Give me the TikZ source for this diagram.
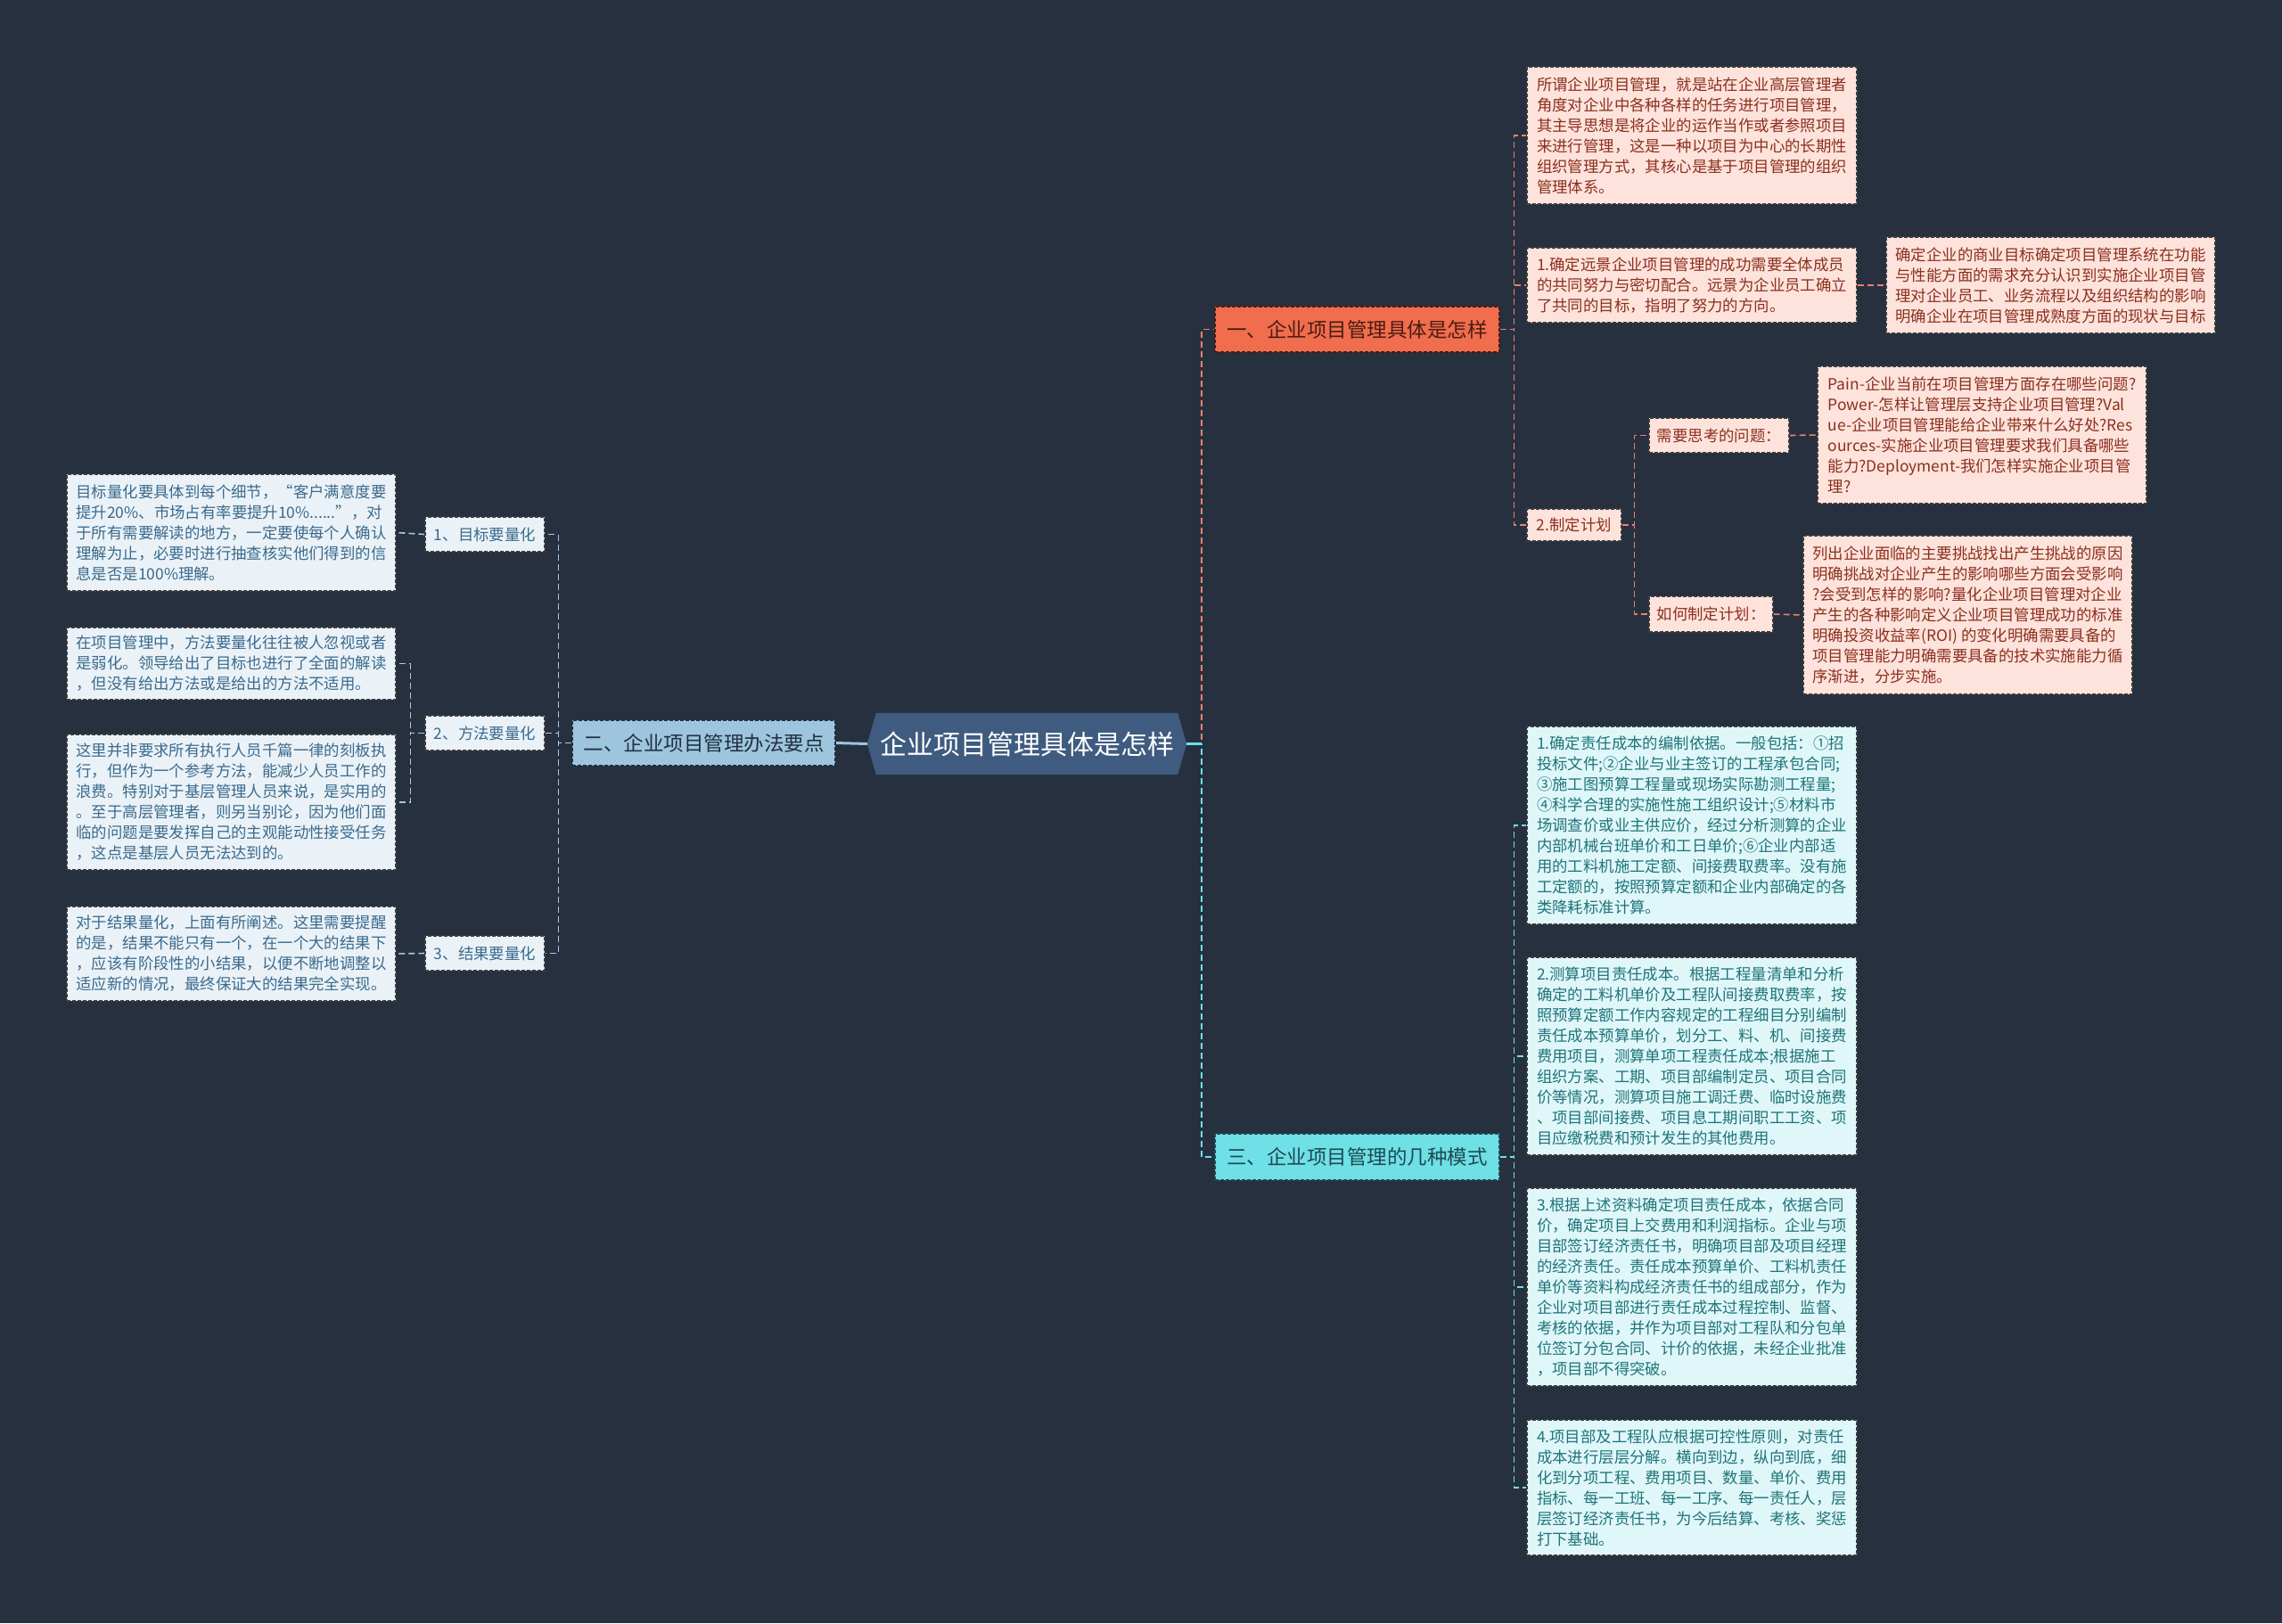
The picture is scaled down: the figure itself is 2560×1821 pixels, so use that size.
\documentclass[tikz,border=0pt]{standalone}
\usepackage{fontspec}
\setmainfont{Noto Sans CJK SC}
\pgfdeclarelayer{bg}
\pgfsetlayers{bg,main}
\definecolor{bgcol}{HTML}{27303F}
\definecolor{centerfill}{HTML}{3F5B80}
\definecolor{lbfill}{HTML}{9DC5DE}
\definecolor{lbtext}{HTML}{22303F}
\definecolor{orbfill}{HTML}{F06D4D}
\definecolor{orbtext}{HTML}{4A1C12}
\definecolor{cybfill}{HTML}{6EE0E6}
\definecolor{cybtext}{HTML}{1D4A52}
\definecolor{orfill}{HTML}{FDE3DC}
\definecolor{ortext}{HTML}{8C2F1E}
\definecolor{cyfill}{HTML}{E0F7F9}
\definecolor{cytext}{HTML}{1E7479}
\definecolor{blfill}{HTML}{EAF2F8}
\definecolor{bltext}{HTML}{3B6A8C}
\definecolor{boxborder}{HTML}{3C3C3C}
\definecolor{llinecol}{HTML}{A8C8DE}
\definecolor{orlinecol}{HTML}{E8836A}
\definecolor{cylinecol}{HTML}{6EE0E6}
\tikzset{
  sz/.style 2 args={minimum width=#1pt, minimum height=#2pt},
  box/.style={draw=boxborder, dash pattern=on 4pt off 2pt, line width=1.1pt, align=left, inner sep=0pt, font=\fontsize{17.4}{23}\selectfont},
  orbox/.style={box, fill=orfill, text=ortext},
  cybox/.style={box, fill=cyfill, text=cytext},
  blbox/.style={box, fill=blfill, text=bltext},
  branchbox/.style={draw=boxborder, dash pattern=on 4pt off 2pt, line width=1.1pt, inner sep=0pt, font=\fontsize{22.5}{27}\selectfont},
  conn/.style={line width=1.6pt, dash pattern=on 7pt off 4pt},
  lline/.style={conn, draw=llinecol},
  orline/.style={conn, draw=orlinecol},
  cyline/.style={conn, draw=cylinecol},
}
\begin{document}
\begin{tikzpicture}[x=1pt,y=-1pt]
\useasboundingbox (0,0) rectangle (2560,1821);
\begin{pgfonlayer}{bg}
\fill[bgcol] (0,0) rectangle (2560,1821);
\end{pgfonlayer}

% center
\node[sz={358}{69}, inner sep=0pt, text=white, font=\fontsize{30}{34}\selectfont] (C) at (1152,834.5) {企业项目管理具体是怎样};

% branches
\node[branchbox, sz={295}{51}, fill=lbfill, text=lbtext, draw=lbtext] (LB) at (789.5,833.5) {二、企业项目管理办法要点};
\node[branchbox, sz={319}{51}, fill=orbfill, text=orbtext, draw=orbtext] (B1) at (1522.5,369.5) {一、企业项目管理具体是怎样};
\node[branchbox, sz={319}{52}, fill=cybfill, text=cybtext, draw=cybtext] (B3) at (1522.5,1298) {三、企业项目管理的几种模式};

% left side
\node[blbox, sz={134}{39}] (S1) at (544,599.5) {1、目标要量化};
\node[blbox, sz={134}{39}] (S2) at (544,822.5) {2、方法要量化};
\node[blbox, sz={134}{39}] (S3) at (544,1069.5) {3、结果要量化};

\node[blbox, sz={369}{131}] (L1) at (259.5,597.5) {目标量化要具体到每个细节，“客户满意度要\\提升20\%、市场占有率要提升10\%......”，对\\于所有需要解读的地方，一定要使每个人确认\\理解为止，必要时进行抽查核实他们得到的信\\息是否是100\%理解。};
\node[blbox, sz={369}{81}] (L2a) at (259.5,744.5) {在项目管理中，方法要量化往往被人忽视或者\\是弱化。领导给出了目标也进行了全面的解读\\，但没有给出方法或是给出的方法不适用。};
\node[blbox, sz={369}{152}] (L2b) at (259.5,900) {这里并非要求所有执行人员千篇一律的刻板执\\行，但作为一个参考方法，能减少人员工作的\\浪费。特别对于基层管理人员来说，是实用的\\。至于高层管理者，则另当别论，因为他们面\\临的问题是要发挥自己的主观能动性接受任务\\，这点是基层人员无法达到的。};
\node[blbox, sz={369}{106}] (L3) at (259.5,1070) {对于结果量化，上面有所阐述。这里需要提醒\\的是，结果不能只有一个，在一个大的结果下\\，应该有阶段性的小结果，以便不断地调整以\\适应新的情况，最终保证大的结果完全实现。};

% right top
\node[orbox, sz={370}{154}] (R1a) at (1898,152) {所谓企业项目管理，就是站在企业高层管理者\\角度对企业中各种各样的任务进行项目管理，\\其主导思想是将企业的运作当作或者参照项目\\来进行管理，这是一种以项目为中心的长期性\\组织管理方式，其核心是基于项目管理的组织\\管理体系。};
\node[orbox, sz={370}{84}] (R1b) at (1898,320) {1.确定远景企业项目管理的成功需要全体成员\\的共同努力与密切配合。远景为企业员工确立\\了共同的目标，指明了努力的方向。};
\node[orbox, sz={369}{108}] (R1bc) at (2300.5,320) {确定企业的商业目标确定项目管理系统在功能\\与性能方面的需求充分认识到实施企业项目管\\理对企业员工、业务流程以及组织结构的影响\\明确企业在项目管理成熟度方面的现状与目标};
\node[orbox, sz={106}{36}] (R1c) at (1766,589) {2.制定计划};
\node[orbox, sz={157}{39}] (Q1) at (1928.5,488.5) {需要思考的问题：};
\node[orbox, sz={139}{40}] (Q2) at (1919.5,689) {如何制定计划：};
\node[orbox, sz={369}{154}] (Pain) at (2223.5,488) {Pain-企业当前在项目管理方面存在哪些问题?\\Power-怎样让管理层支持企业项目管理?Val\\ue-企业项目管理能给企业带来什么好处?Res\\ources-实施企业项目管理要求我们具备哪些\\能力?Deployment-我们怎样实施企业项目管\\理?};
\node[orbox, sz={369}{178}] (P2) at (2207.5,690) {列出企业面临的主要挑战找出产生挑战的原因\\明确挑战对企业产生的影响哪些方面会受影响\\?会受到怎样的影响?量化企业项目管理对企业\\产生的各种影响定义企业项目管理成功的标准\\明确投资收益率(ROI) 的变化明确需要具备的\\项目管理能力明确需要具备的技术实施能力循\\序渐进，分步实施。};

% right bottom
\node[cybox, sz={370}{222}] (R3a) at (1898,926) {1.确定责任成本的编制依据。一般包括：①招\\投标文件;②企业与业主签订的工程承包合同;\\③施工图预算工程量或现场实际勘测工程量;\\④科学合理的实施性施工组织设计;⑤材料市\\场调查价或业主供应价，经过分析测算的企业\\内部机械台班单价和工日单价;⑥企业内部适\\用的工料机施工定额、间接费取费率。没有施\\工定额的，按照预算定额和企业内部确定的各\\类降耗标准计算。};
\node[cybox, sz={370}{222}] (R3b) at (1898,1185) {2.测算项目责任成本。根据工程量清单和分析\\确定的工料机单价及工程队间接费取费率，按\\照预算定额工作内容规定的工程细目分别编制\\责任成本预算单价，划分工、料、机、间接费\\费用项目，测算单项工程责任成本;根据施工\\组织方案、工期、项目部编制定员、项目合同\\价等情况，测算项目施工调迁费、临时设施费\\、项目部间接费、项目息工期间职工工资、项\\目应缴税费和预计发生的其他费用。};
\node[cybox, sz={370}{222}] (R3c) at (1898,1444) {3.根据上述资料确定项目责任成本，依据合同\\价，确定项目上交费用和利润指标。企业与项\\目部签订经济责任书，明确项目部及项目经理\\的经济责任。责任成本预算单价、工料机责任\\单价等资料构成经济责任书的组成部分，作为\\企业对项目部进行责任成本过程控制、监督、\\考核的依据，并作为项目部对工程队和分包单\\位签订分包合同、计价的依据，未经企业批准\\，项目部不得突破。};
\node[cybox, sz={370}{152}] (R3d) at (1898,1669) {4.项目部及工程队应根据可控性原则，对责任\\成本进行层层分解。横向到边，纵向到底，细\\化到分项工程、费用项目、数量、单价、费用\\指标、每一工班、每一工序、每一责任人，层\\层签订经济责任书，为今后结算、考核、奖惩\\打下基础。};

\begin{pgfonlayer}{bg}
% center hexagon
\fill[centerfill] ([xshift=10pt]C.north west) -- ([xshift=-10pt]C.north east) -- (C.east) -- ([xshift=-10pt]C.south east) -- ([xshift=10pt]C.south west) -- (C.west) -- cycle;
% center connectors
\draw[draw=lbfill, line width=3pt] (C.west) -- (LB.east);
\draw[orline] (C.east) -- ++(17,0) |- (B1.west);
\draw[cyline] (C.east) -- ++(17,0) |- (B3.west);
\draw[draw=cylinecol, line width=3pt] (C.east) -- ++(17,0);
% right top
\foreach \n in {R1a,R1b,R1c} \draw[orline] (B1.east) -- ++(16,0) |- (\n.west);
\draw[orline] (R1b.east) -- (R1bc.west);
\foreach \n in {Q1,Q2} \draw[orline] (R1c.east) -- ++(14,0) |- (\n.west);
\draw[orline] (Q1.east) -- (Pain.west);
\draw[orline] (Q2.east) -- (P2.west);
% right bottom
\foreach \n in {R3a,R3b,R3c,R3d} \draw[cyline] (B3.east) -- ++(16,0) |- (\n.west);
% left
\foreach \n in {S1,S2,S3} \draw[lline] (LB.west) -- ++(-15,0) |- (\n.east);
\draw[lline] (S1.west) -- (L1.east);
\draw[lline] (S3.west) -- (L3.east);
\foreach \n in {L2a,L2b} \draw[lline] (S2.west) -- ++(-16,0) |- (\n.east);
\end{pgfonlayer}
\end{tikzpicture}
\end{document}
